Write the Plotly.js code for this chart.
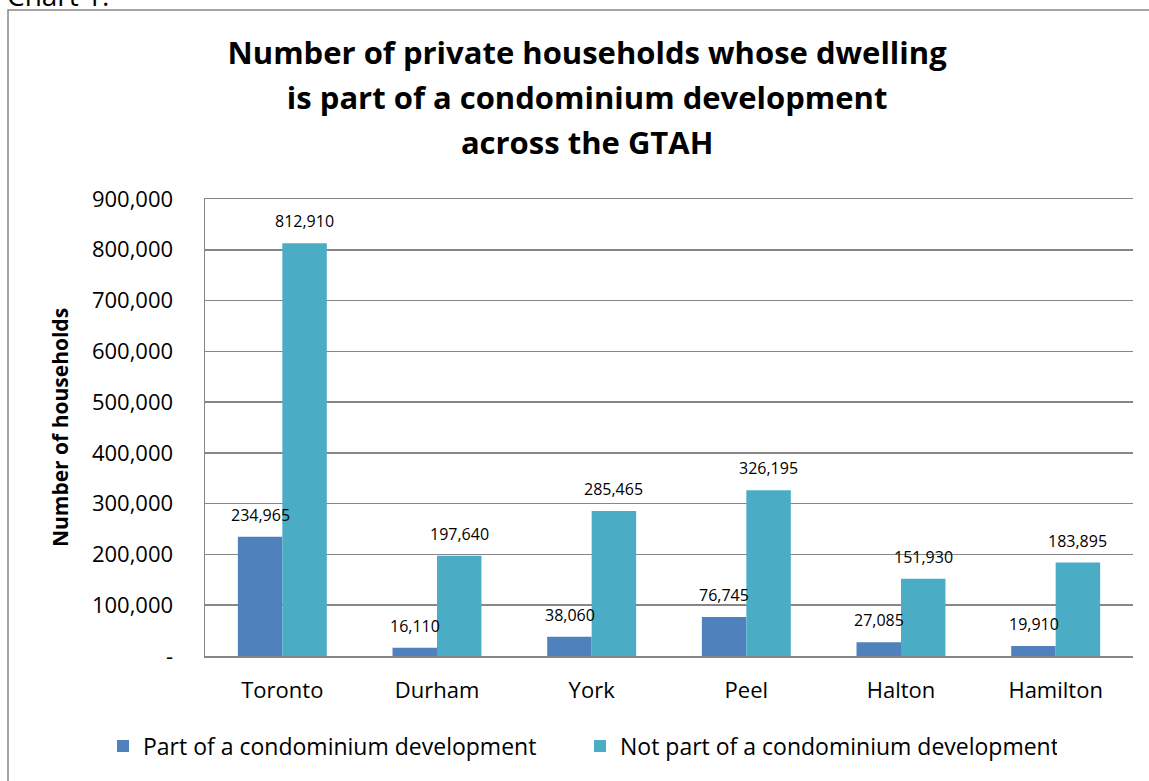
<!DOCTYPE html>
<html>
<head>
<meta charset="utf-8">
<script src="https://cdn.plot.ly/plotly-3.0.1.min.js"></script>
<style>html,body{margin:0;padding:0;background:#fff;}#chart{width:1149px;height:781px;}</style>
</head>
<body>
<div id="chart"></div>
<script>
const regions = ["Toronto", "Durham", "York", "Peel", "Halton", "Hamilton"];
const partOfCondo = [234965, 16110, 38060, 76745, 27085, 19910];
const notPartOfCondo = [812910, 197640, 285465, 326195, 151930, 183895];
const seriesNames = ["Part of a condominium development", "Not part of a condominium development"];
const yTickVals = [0, 100000, 200000, 300000, 400000, 500000, 600000, 700000, 800000, 900000];
const yTickText = ["-", "100,000", "200,000", "300,000", "400,000", "500,000", "600,000", "700,000", "800,000", "900,000"];
const titleLines = ["Number of private households whose dwelling", "is part of a condominium development", "across the GTAH"];
const yTitle = "Number of households";
const chartLabel = "Chart 1.";

const FONT = "Open Sans, sans-serif";
const colors = ["#4F81BD", "#4BACC6"];

const L = 205, R = 16, T = 199, B = 125;
const W = 1149, H = 781;
const pw = W - L - R, ph = H - T - B;
const px2x = p => (p - L) / pw;
const py2y = p => (H - B - p) / ph;

const traces = [
  {type: "bar", name: seriesNames[0], x: regions, y: partOfCondo, marker: {color: colors[0]}, hoverinfo: "x+y"},
  {type: "bar", name: seriesNames[1], x: regions, y: notPartOfCondo, marker: {color: colors[1]}, hoverinfo: "x+y"}
];

const fmt = v => v.toLocaleString("en-US");
const annotations = [];
[partOfCondo, notPartOfCondo].forEach((arr, si) => {
  arr.forEach((v, i) => {
    annotations.push({
      x: regions[i], y: v, xref: "x", yref: "y",
      text: fmt(v), showarrow: false,
      xshift: si === 0 ? -22 : 22, yshift: 22,
      xanchor: "center", yanchor: "middle",
      font: {family: FONT, size: 16, color: "#000"}
    });
  });
});
annotations.push({
  xref: "paper", yref: "paper", x: px2x(5), y: py2y(16),
  xanchor: "left", yanchor: "bottom", showarrow: false,
  text: chartLabel, font: {family: FONT, size: 28, color: "#000"}
});

const layout = {
  width: W, height: H,
  paper_bgcolor: "#fff", plot_bgcolor: "#fff",
  margin: {l: L, r: R, t: T, b: B},
  font: {family: FONT, color: "#000"},
  title: {
    text: titleLines.map(s => '<span style="font-size:31px">' + s + '</span>').join("<br>"),
    font: {family: FONT, size: 34.6, color: "#000", weight: "bold"},
    x: 0.511, xref: "container", xanchor: "center",
    y: 1 - 64 / H, yref: "container", yanchor: "top"
  },
  barmode: "group", bargap: 0.425, bargroupgap: 0,
  xaxis: {
    type: "category",
    showline: true, mirror: true, linecolor: "#868686", linewidth: 1.5,
    showgrid: false, ticks: "",
    tickfont: {family: FONT, size: 22, color: "#000"},
    ticklabelstandoff: 14
  },
  yaxis: {
    range: [0, 900000], autorange: false,
    tickvals: yTickVals, ticktext: yTickText,
    showgrid: true, gridcolor: "#868686", gridwidth: 1.5,
    showline: true, linecolor: "#868686", linewidth: 1.5,
    zeroline: false, ticks: "",
    tickfont: {family: FONT, size: 22, color: "#000"},
    ticklabelstandoff: 26,
    title: {text: yTitle, font: {family: FONT, size: 21, color: "#000", weight: "bold"}, standoff: 17}
  },
  showlegend: true,
  legend: {
    orientation: "h", x: px2x(103), xanchor: "left", y: py2y(746), yanchor: "middle",
    font: {family: FONT, size: 23, color: "#000"},
    entrywidth: 432, entrywidthmode: "pixels",
    bgcolor: "rgba(0,0,0,0)", traceorder: "normal"
  },
  shapes: [{
    type: "path", xref: "paper", yref: "paper",
    path: `M ${px2x(8)} ${py2y(800)} L ${px2x(8)} ${py2y(10)} L ${px2x(1160)} ${py2y(10)}`,
    line: {color: "#868686", width: 1.5}
  }],
  annotations: annotations
};

Plotly.newPlot("chart", traces, layout, {displayModeBar: false, staticPlot: true});
</script>
</body>
</html>
